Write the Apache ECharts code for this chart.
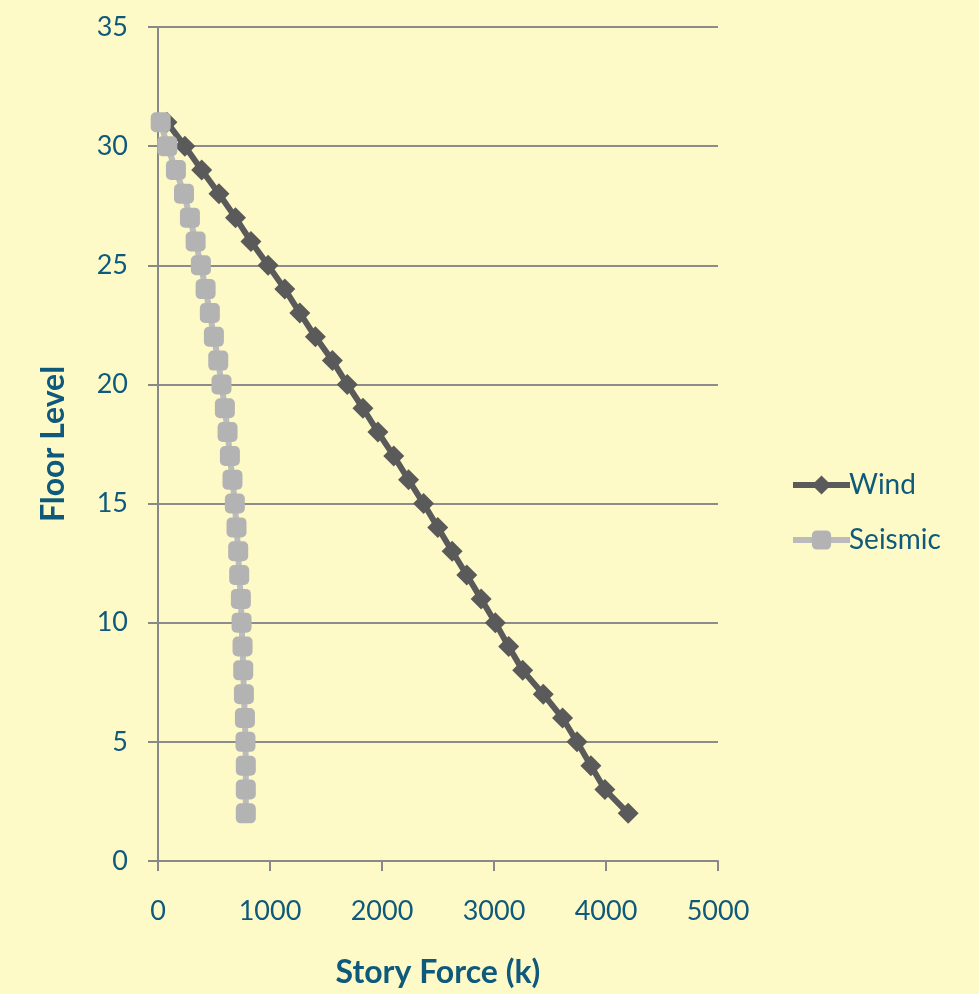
<!DOCTYPE html>
<html>
<head>
<meta charset="utf-8">
<script src="https://cdn.jsdelivr.net/npm/echarts@6/dist/echarts.min.js"></script>
<style>
  html, body { margin: 0; padding: 0; background: #fefac8; }
  #chart { width: 979px; height: 994px; }
</style>
</head>
<body>
<div id="chart"></div>
<script>
// floor levels, top down
const floors = [31, 30, 29, 28, 27, 26, 25, 24, 23, 22, 21, 20, 19, 18, 17, 16, 15, 14, 13, 12, 11, 10, 9, 8, 7, 6, 5, 4, 3, 2]
const windForce = [80, 240, 390, 544, 692, 830, 983, 1132, 1266, 1405, 1557, 1690, 1830, 1964, 2105, 2237, 2371, 2498, 2626, 2757, 2885, 3012, 3131, 3256, 3440, 3612, 3741, 3865, 3990, 4198]
const seismicForce = [24, 83, 160, 232, 285, 336, 383, 425, 463, 499, 538, 567, 597, 621, 642, 665, 686, 701, 716, 725, 740, 746, 755, 761, 767, 776, 781, 784, 784, 784]
const xTicks = { min: 0, max: 5000, interval: 1000 }
const yTicks = { min: 0, max: 35, interval: 5 }

const textColor = '#0f5a7c'
const fontFamily = 'Lato, "Open Sans", sans-serif'
const windColor = '#5a5a5a'
const seismicColor = '#b3b3b3'

const chart = echarts.init(document.getElementById('chart'))

const toPairs = (xs) => xs.map((v, i) => [v, floors[i]])

const option = {
  backgroundColor: '#fefac8',
  textStyle: { fontFamily: fontFamily },
  animation: false,
  grid: {
    left: 158,
    right: 261,
    top: 27,
    bottom: 132
  },
  legend: {
    orient: 'vertical',
    left: 785,
    top: 466,
    itemWidth: 57,
    itemHeight: 24,
    itemGap: 27,
    textStyle: { color: textColor, fontSize: 28, fontFamily: fontFamily, padding: [0, 0, 0, -6] },
    data: [
      { name: 'Wind', lineStyle: { width: 6, color: windColor } },
      { name: 'Seismic', lineStyle: { width: 6, color: '#bbbbbb' } }
    ]
  },
  xAxis: {
    type: 'value',
    min: xTicks.min,
    max: xTicks.max,
    interval: xTicks.interval,
    name: 'Story Force (k)',
    nameLocation: 'middle',
    nameGap: 96,
    nameTextStyle: { color: textColor, fontSize: 32, fontWeight: 'bold', fontFamily: fontFamily },
    axisLine: { show: true, lineStyle: { color: '#888888', width: 2 } },
    axisTick: { show: true, length: 10, lineStyle: { color: '#888888', width: 2 } },
    axisLabel: { color: textColor, fontSize: 27, margin: 37, formatter: (v) => String(v) },
    splitLine: { show: false }
  },
  yAxis: {
    type: 'value',
    min: yTicks.min,
    max: yTicks.max,
    interval: yTicks.interval,
    name: 'Floor Level',
    nameLocation: 'middle',
    nameGap: 88,
    nameTextStyle: { color: textColor, fontSize: 32, fontWeight: 'bold', fontFamily: fontFamily },
    axisLine: { show: true, lineStyle: { color: '#888888', width: 2 } },
    axisTick: { show: true, length: 10, lineStyle: { color: '#888888', width: 2 } },
    axisLabel: { color: textColor, fontSize: 27, margin: 30 },
    splitLine: { show: true, lineStyle: { color: '#8c8c8c', width: 2 } }
  },
  series: [
    {
      name: 'Wind',
      type: 'line',
      data: toPairs(windForce),
      symbol: 'diamond',
      symbolSize: 21,
      itemStyle: { color: windColor, borderWidth: 0 },
      lineStyle: { color: windColor, width: 6 }
    },
    {
      name: 'Seismic',
      type: 'line',
      data: toPairs(seismicForce),
      symbol: 'roundRect',
      symbolSize: 20,
      itemStyle: { color: seismicColor, borderWidth: 0 },
      lineStyle: { color: '#bbbbbb', width: 6 }
    }
  ]
}

chart.setOption(option)
</script>
</body>
</html>
